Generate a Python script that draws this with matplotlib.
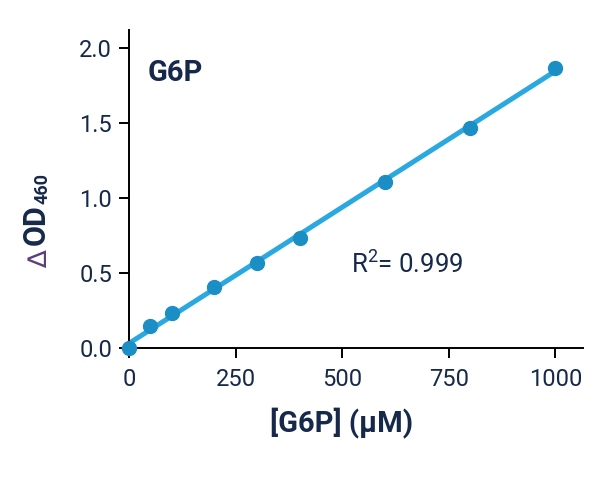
import numpy as np
import matplotlib
matplotlib.use("Agg")
from matplotlib import pyplot as plt

# standard curve
conc = [0, 50, 100, 200, 300, 400, 600, 800, 1000]  # uM
od = [0.00, 0.15, 0.235, 0.41, 0.565, 0.735, 1.105, 1.47, 1.87]
x_ticks = [0, 250, 500, 750, 1000]
y_ticks = [0.0, 0.5, 1.0, 1.5, 2.0]
r2_text = "R$^{2}$= 0.999"

NAVY = "#16294a"
PURPLE = "#5b3f7d"
LINE_C = "#2aa9e0"
DOT_C = "#1c8ec6"

plt.rcParams["font.family"] = ["Roboto", "DejaVu Sans"]
plt.rcParams["mathtext.fontset"] = "custom"
plt.rcParams["mathtext.rm"] = "Roboto"
plt.rcParams["mathtext.it"] = "Roboto:italic"
plt.rcParams["mathtext.bf"] = "Roboto:bold"

fig = plt.figure(figsize=(6, 4.8), dpi=100)
ax = fig.add_axes([129 / 600, 1 - 348 / 480, 454 / 600, 318 / 480])

# linear fit
k, b = np.polyfit(conc, od, 1)
xs = np.array([0, 1000])
ax.plot(xs, k * xs + b, color=LINE_C, lw=3.6, solid_capstyle="round",
        clip_on=False, zorder=2)
ax.plot(conc, od, "o", color=DOT_C, ms=10, mec=DOT_C, clip_on=False, zorder=3)

ax.set_xlim(0, 1065)
ax.set_ylim(0, 2.12)
ax.set_xticks(x_ticks)
ax.set_yticks(y_ticks)
ax.set_yticklabels(["%.1f" % v for v in y_ticks])

for s in ["top", "right"]:
    ax.spines[s].set_visible(False)
for s in ["left", "bottom"]:
    ax.spines[s].set_linewidth(1.4)
    ax.spines[s].set_color("black")
ax.tick_params(axis="both", direction="out", length=7.2, width=1.4,
               color="black", labelsize=17, labelcolor=NAVY)
ax.tick_params(axis="x", pad=7)
ax.tick_params(axis="y", pad=5)

ax.set_xlabel("[G6P] (µM)", fontsize=21, fontweight="bold", color=NAVY)
ax.xaxis.set_label_coords(0.469, -0.185)

# y label in pieces: purple delta, bold OD, subscript 460
fig.text(40 / 600, 1 - 259 / 480, "∆", rotation=90, ha="center", va="center",
         fontsize=19, color=PURPLE, family=["DejaVu Sans"])
fig.text(35.5 / 600, 1 - 225 / 480, "OD", rotation=90, ha="center", va="center",
         fontsize=22, fontweight="bold", color=NAVY)
fig.text(42 / 600, 1 - 188 / 480, "460", rotation=90, ha="center", va="center",
         fontsize=13, fontweight="bold", color=NAVY)

ax.text(0.04, 1 - (73 - 30) / 318, "G6P", transform=ax.transAxes,
        ha="left", va="center", fontsize=21, fontweight="bold", color=NAVY)
ax.text(520, 0.5, r2_text, ha="left", va="baseline", fontsize=18.5, color=NAVY)

fig.savefig("out.png", dpi=100, facecolor="white")
